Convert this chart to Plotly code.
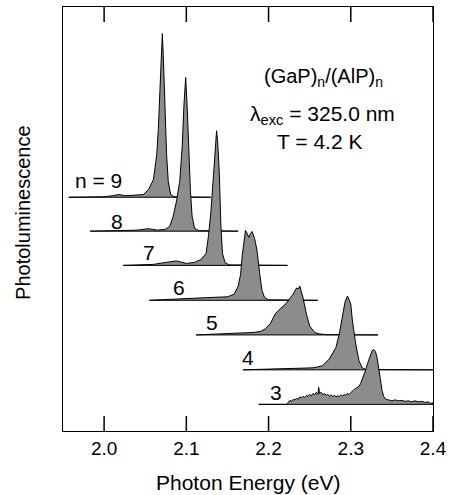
import plotly.graph_objects as go

# ---- data (photon energy in eV, PL intensity in arbitrary units above each baseline) ----
labels = ["n = 9", "8", "7", "6", "5", "4", "3"]
offsets = [234.3, 200.3, 166.0, 131.0, 96.3, 61.3, 26.7]

n9_x = [1.957, 2.000, 2.010, 2.018, 2.026, 2.035, 2.042, 2.048, 2.054, 2.060, 2.064, 2.066,
        2.068, 2.070, 2.0708, 2.072, 2.074, 2.076, 2.078, 2.081, 2.085, 2.1297]
n9_y = [0, 0.5, 1.5, 2.7, 1.5, 2.0, 2.0, 2.7, 7.7, 17.7, 42.7, 69,
        109, 156, 164, 142, 92, 42.7, 16, 2.7, 0.5, 0]

n8_x = [1.983, 2.030, 2.040, 2.054, 2.065, 2.075, 2.080, 2.084, 2.088, 2.092, 2.095, 2.097,
        2.0992, 2.101, 2.103, 2.105, 2.107, 2.110, 2.115, 2.163]
n8_y = [0, 0.5, 1, 2.5, 1, 2, 5, 15, 30, 50, 85, 125,
        154, 125, 80, 40, 15, 3, 0.5, 0]

n7_x = [2.023, 2.060, 2.075, 2.088, 2.100, 2.110, 2.118, 2.124, 2.127, 2.130, 2.133, 2.1355,
        2.1368, 2.138, 2.140, 2.142, 2.144, 2.147, 2.152, 2.223]
n7_y = [0, 1, 3, 4.5, 2, 3, 6, 12, 30, 55, 90, 125,
        135, 125, 95, 40, 12, 3, 0.5, 0]

n6_x = [2.055, 2.090, 2.110, 2.134, 2.150, 2.158, 2.163, 2.166, 2.168, 2.170, 2.172, 2.174,
        2.176, 2.178, 2.180, 2.183, 2.186, 2.189, 2.192, 2.195, 2.200, 2.260]
n6_y = [0, 1, 2, 3, 3.5, 6, 14, 26, 45, 60, 70, 67,
        63, 67, 69, 62, 50, 28, 10, 3, 0.5, 0]

n5_x = [2.112, 2.150, 2.162, 2.172, 2.182, 2.190, 2.196, 2.202, 2.208, 2.214, 2.222, 2.230,
        2.234, 2.236, 2.238, 2.242, 2.246, 2.250, 2.256, 2.262, 2.270, 2.333]
n5_y = [0, 1, 1.5, 2, 2.5, 3.5, 6, 11, 21, 26, 32, 41,
        47, 46, 49, 37, 21, 9, 2.5, 1, 0.3, 0]

n4_x = [2.169, 2.222, 2.240, 2.254, 2.260, 2.266, 2.274, 2.282, 2.286, 2.290, 2.293, 2.296,
        2.300, 2.302, 2.306, 2.310, 2.314, 2.318, 2.330, 2.400]
n4_y = [0, 1, 1.5, 2, 3, 4.3, 11, 22.6, 36, 56, 68, 74,
        66, 49, 26, 9, 2, 0.5, 0.3, 0]

n3_x = [2.188, 2.222, 2.224, 2.226, 2.228, 2.230, 2.232, 2.234, 2.236, 2.238, 2.240, 2.242,
        2.244, 2.246, 2.248, 2.250, 2.252, 2.254, 2.256, 2.258, 2.260, 2.261, 2.262, 2.264,
        2.266, 2.268, 2.270, 2.272, 2.274, 2.276, 2.278, 2.280, 2.282, 2.284, 2.286, 2.288,
        2.290, 2.292, 2.294, 2.296, 2.298, 2.300, 2.302, 2.304, 2.306, 2.308, 2.310, 2.312,
        2.314, 2.316, 2.318, 2.320, 2.322, 2.324, 2.326, 2.328, 2.330, 2.332, 2.334, 2.336,
        2.338, 2.340, 2.343, 2.346, 2.350, 2.354, 2.358, 2.362, 2.366, 2.370, 2.374, 2.378,
        2.382, 2.386, 2.390, 2.394, 2.397, 2.400]
n3_y = [0, 0, 2, 4, 3, 5, 4.5, 6, 5, 7.5, 6.5, 8,
        7, 9, 8, 10, 8.5, 11, 9.5, 12, 10, 17, 11, 12,
        9.5, 11, 9, 10, 8.5, 9.5, 8, 9, 7.5, 8.5, 8, 9.5,
        8.5, 10, 9, 11, 10, 12, 13, 15, 16, 17, 18, 21,
        25, 29, 34, 40, 45, 50, 54, 55, 53, 47, 36, 24,
        14, 8, 5, 4.5, 3.5, 4.5, 3.5, 4, 3, 3.5, 2.5, 3.5,
        2.5, 3, 2, 2.5, 1, 1.5]

spectra_x = [n9_x, n8_x, n7_x, n6_x, n5_x, n4_x, n3_x]
spectra_y = [n9_y, n8_y, n7_y, n6_y, n5_y, n4_y, n3_y]

x_ticks = [2.0, 2.1, 2.2, 2.3, 2.4]
x_tick_text = ["2.0", "2.1", "2.2", "2.3", "2.4"]

# label anchor positions (eV, plot units)
label_x = [1.993, 2.016, 2.054, 2.091, 2.131, 2.175, 2.209]
label_y = [251, 210, 178.5, 144, 109, 74, 39]

FONT = "Liberation Sans, Arial, Helvetica, sans-serif"
FILL = "rgb(140,140,140)"
Y_MAX = 425
TICK_LEN = 15

fig = go.Figure()
for xs, ys, off in zip(spectra_x, spectra_y, offsets):
    yy = [off + v for v in ys]
    px = list(xs) + [xs[-1], xs[0]]
    py = yy + [off, off]
    fig.add_trace(go.Scatter(
        x=px, y=py, mode="lines", fill="toself", fillcolor=FILL,
        line=dict(color="black", width=1), hoverinfo="skip", showlegend=False))

# inside tick marks on bottom and top frame edges, placed at the tick values
tick_x, tick_y = [], []
for tv in x_ticks:
    tick_x += [tv, tv, None, tv, tv, None]
    tick_y += [0, TICK_LEN, None, Y_MAX - TICK_LEN, Y_MAX, None]
fig.add_trace(go.Scatter(x=tick_x, y=tick_y, mode="lines", cliponaxis=False,
                         line=dict(color="black", width=1.5),
                         hoverinfo="skip", showlegend=False))

annotations = []
for t, lx, ly in zip(labels, label_x, label_y):
    annotations.append(dict(x=lx, y=ly, xref="x", yref="y", text=t, showarrow=False,
                            font=dict(family=FONT, size=21, color="black"),
                            xanchor="center", yanchor="middle"))

annotations += [
    dict(x=2.267, y=354, xref="x", yref="y", text="(GaP)<sub>n</sub>/(AlP)<sub>n</sub>",
         showarrow=False, font=dict(family=FONT, size=20, color="black"),
         xanchor="center", yanchor="middle"),
    dict(x=2.265, y=317, xref="x", yref="y", text="λ<sub>exc</sub> = 325.0 nm",
         showarrow=False, font=dict(family=FONT, size=21, color="black"),
         xanchor="center", yanchor="middle"),
    dict(x=2.2616, y=290, xref="x", yref="y", text="T = 4.2 K",
         showarrow=False, font=dict(family=FONT, size=21, color="black"),
         xanchor="center", yanchor="middle"),
    dict(x=0.5, y=-0.122, xref="paper", yref="paper", text="Photon Energy (eV)",
         showarrow=False, font=dict(family=FONT, size=21, color="black"),
         xanchor="center", yanchor="middle"),
    dict(x=-0.11, y=0.515, xref="paper", yref="paper", text="Photoluminescence",
         showarrow=False, textangle=-90, font=dict(family=FONT, size=20, color="black"),
         xanchor="center", yanchor="middle"),
]

fig.update_layout(
    width=453, height=495,
    margin=dict(l=63, r=15, t=6, b=64),
    plot_bgcolor="white", paper_bgcolor="white",
    annotations=annotations,
    xaxis=dict(range=[1.95, 2.4], tickvals=x_ticks, ticktext=x_tick_text,
               tickmode="array", ticks="",
               showline=True, linecolor="black", linewidth=1.2, mirror=True,
               showgrid=False, zeroline=False,
               tickfont=dict(family=FONT, size=19, color="black")),
    yaxis=dict(range=[0, Y_MAX], showticklabels=False, ticks="",
               showline=True, linecolor="black", linewidth=1.2, mirror=True,
               showgrid=False, zeroline=False),
)

fig.write_html("out.html",
               config={"displayModeBar": False},
               post_script="document.body.style.margin='0';document.body.style.padding='0';"
                           "document.body.style.overflow='hidden';")
